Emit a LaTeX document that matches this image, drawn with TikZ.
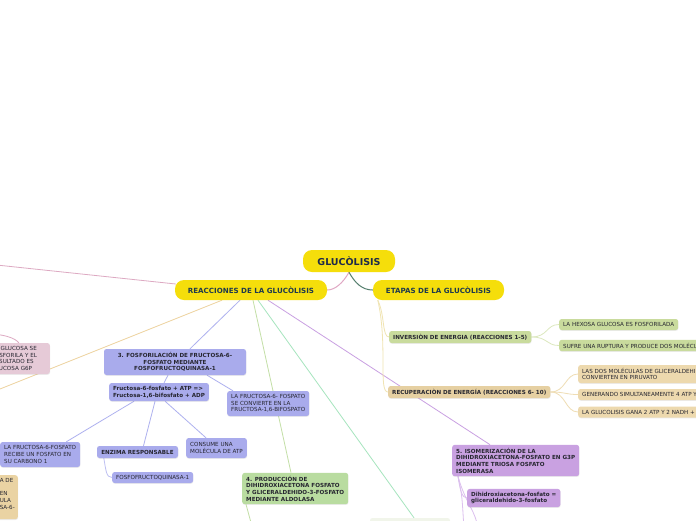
\documentclass[tikz,border=0pt]{standalone}
\usepackage{fontspec}
\setmainfont{DejaVu Sans}
\usetikzlibrary{backgrounds,shadows,calc}
\newcommand\fsz{\fontsize{5.6}{6.67}\selectfont}
\definecolor{yel}{HTML}{F5DE0B}
\definecolor{navy}{HTML}{1E2A4A}
\definecolor{tealdk}{HTML}{1F3A4D}
\definecolor{txt}{HTML}{262630}
\definecolor{bluef}{HTML}{A9ABEC}
\definecolor{greenf}{HTML}{B9DCA0}
\definecolor{purplef}{HTML}{C9A1E1}
\definecolor{pinkf}{HTML}{E6CAD7}
\definecolor{orangef}{HTML}{EAD3A3}
\definecolor{olivef}{HTML}{C9DB9D}
\definecolor{tanf}{HTML}{E6D0A2}
\definecolor{tanlf}{HTML}{EDD9AE}
\definecolor{offf}{HTML}{F1F5EA}
\definecolor{cpink}{HTML}{E0A8C4}
\definecolor{cpinkl}{HTML}{DDA9C2}
\definecolor{corange}{HTML}{EDD19C}
\definecolor{cblue}{HTML}{AEB1EF}
\definecolor{cbluel}{HTML}{BEC0F2}
\definecolor{cgreen}{HTML}{C3DFA6}
\definecolor{cmint}{HTML}{A6E5BE}
\definecolor{cpurple}{HTML}{C9A0E2}
\definecolor{cpurplel}{HTML}{DCC0EE}
\definecolor{cdark}{HTML}{557F6E}
\definecolor{cetapa}{HTML}{F0E4B2}
\definecolor{cinv}{HTML}{DCE8BE}
\definecolor{crec}{HTML}{EFDDB4}
\begin{document}
\begin{tikzpicture}[x=1pt,y=-1pt,
  box/.style={rounded corners=2.5pt, inner xsep=4pt, inner ysep=3pt, font=\fsz, text=txt, align=left,
    drop shadow={shadow xshift=0.3pt, shadow yshift=-0.8pt, opacity=0.15}},
  boldbox/.style={box, font=\fsz\bfseries},
  titlebox/.style={fill=yel, rounded corners=9pt, text=navy, font=\fontsize{9.5}{11}\selectfont\bfseries,
    minimum height=22pt, minimum width=92pt, inner sep=0pt},
  subbox/.style={fill=yel, rounded corners=9pt, text=tealdk, font=\fontsize{7.1}{8}\selectfont\bfseries,
    minimum height=20pt, inner sep=0pt},
  conn/.style={line width=0.8pt}
]
\useasboundingbox (0,0) rectangle (696,520);
\begin{scope}[on background layer]
  \fill[white] (0,0) rectangle (696,520);
\end{scope}

% main nodes
\node[titlebox] (g) at (349,261) {GLUCÒLISIS};
\node[subbox, minimum width=152pt] (r) at (251,290) {REACCIONES DE LA GLUCÒLISIS};
\node[subbox, minimum width=131pt] (e) at (438.5,290) {ETAPAS DE LA GLUCÒLISIS};

% left clipped nodes
\node[box, fill=pinkf, anchor=east, text width=54pt, minimum height=31pt] (p1) at (50,358.5)
  {\mbox{LA GLUCOSA SE}\\\mbox{FOSFORILA Y EL}\\\mbox{RESULTADO ES}\\\mbox{GLUCOSA G6P}};
\node[box, fill=orangef, anchor=north east, text width=14pt, minimum height=44pt] (o) at (18,475)
  {\mbox{A DE}\\\mbox{}\\\mbox{EN}\\\mbox{ULA}\\\mbox{SA-6-}\\\mbox{}};

% blue branch
\node[boldbox, fill=bluef, align=center, minimum width=142pt, minimum height=26pt] (b3) at (175,362)
  {3. FOSFORILACIÓN DE FRUCTOSA-6-\\FOSFATO MEDIANTE\\FOSFOFRUCTOQUINASA-1};
\node[boldbox, fill=bluef, anchor=west, minimum height=18pt] (bf) at (109,392)
  {Fructosa-6-fosfato + ATP =>\\Fructosa-1,6-bifosfato + ADP};
\node[box, fill=bluef, anchor=west, minimum height=25pt] (bc) at (227,403.5)
  {LA FRUCTOSA-6- FOSPATO\\SE CONVIERTE EN LA\\FRUCTOSA-1,6-BIFOSPATO};
\node[box, fill=bluef, anchor=west, minimum height=25pt] (bl) at (0,454.5)
  {LA FRUCTOSA-6-FOSFATO\\RECIBE UN FOSFATO EN\\SU CARBONO 1};
\node[boldbox, fill=bluef, minimum width=81pt, minimum height=12pt] (be) at (137.5,452)
  {ENZIMA RESPONSABLE};
\node[box, fill=bluef, anchor=west, minimum height=20pt] (bm) at (186,448)
  {CONSUME UNA\\MOLÉCULA DE ATP};
\node[box, fill=bluef, anchor=west, minimum height=11pt] (bq) at (112,477.5)
  {FOSFOFRUCTOQUINASA-1};

% green
\node[boldbox, fill=greenf, anchor=west, minimum height=31pt] (g4) at (242,488.5)
  {4. PRODUCCIÓN DE\\DIHIDROXIACETONA FOSFATO\\Y GLICERALDEHIDO-3-FOSFATO\\MEDIANTE ALDOLASA};
\node[fill=offf, rounded corners=2.5pt, minimum width=80pt, minimum height=24pt, inner sep=0pt] (off) at (410,530) {};

% purple
\node[boldbox, fill=purplef, anchor=west, minimum height=31pt] (p5) at (452,460.5)
  {5. ISOMERIZACIÓN DE LA\\DIHIDROXIACETONA-FOSFATO EN G3P\\MEDIANTE TRIOSA FOSFATO\\ISOMERASA};
\node[boldbox, fill=purplef, anchor=west, minimum height=18pt] (p5c) at (467,498)
  {Dihidroxiacetona-fosfato =\\gliceraldehido-3-fosfato};

% etapas
\node[boldbox, fill=olivef, anchor=west, minimum height=12pt] (inv) at (389,337)
  {INVERSIÒN DE ENERGIA (REACCIONES 1-5)};
\node[box, fill=olivef, anchor=west, minimum height=11pt] (i1) at (559,324.5)
  {LA HEXOSA GLUCOSA ES FOSFORILADA};
\node[box, fill=olivef, anchor=west, minimum height=11pt] (i2) at (559,345.5)
  {SUFRE UNA RUPTURA Y PRODUCE DOS MOLÉCULAS DE GLICERALDEHIDO-3-FOSFATO};
\node[boldbox, fill=tanf, anchor=west, minimum height=12pt] (rec) at (388,392)
  {RECUPERACIÒN DE ENERGÍA (REACCIONES 6- 10)};
\node[box, fill=tanlf, anchor=west, minimum height=18pt] (r1) at (578,374)
  {LAS DOS MOLÉCULAS DE GLICERALDEHIDO-3-FOSFATO SE\\CONVIERTEN EN PIRUVATO};
\node[box, fill=tanlf, anchor=west, minimum height=11pt] (r2) at (578,394.5)
  {GENERANDO SIMULTANEAMENTE 4 ATP Y 2 NADH};
\node[box, fill=tanlf, anchor=west, minimum height=11pt] (r3) at (578,412)
  {LA GLUCOLISIS GANA 2 ATP Y 2 NADH + 2 H+};

\coordinate (pk) at (-60,259);
\coordinate (oc) at (-100,429);
\coordinate (pl) at (-20,333);
\coordinate (gd) at (253,530);
\coordinate (pd1) at (464,530);
\coordinate (pd2) at (478,530);

\begin{scope}[on background layer]
  \draw[conn, cpink, line width=1pt] (g.south) .. controls (343,283) and (335,290) .. (r.east);
  \draw[conn, cdark, line width=1pt] (g.south) .. controls (355,283) and (362,290) .. (e.west);
  \draw[conn, cpinkl] ($(r.west)+(1,-6)$) -- (pk);
  \draw[conn, cpinkl] (pl) .. controls (5,334) and (15,338) .. (p1.north);
  \draw[conn, corange] ($(r.south)+(-29,0)$) -- (oc);
  \draw[conn, cblue] ($(r.south)+(-11,0)$) -- ($(b3.north)+(15,0)$);
  \draw[conn, cgreen] ($(r.south)+(2,0)$) -- ($(g4.north west)+(49,0)$);
  \draw[conn, cmint] ($(r.south)+(7,0)$) -- ($(off.north)+(4,0)$);
  \draw[conn, cpurple] ($(r.south)+(17,0)$) -- ($(p5.north west)+(38,0)$);
  \draw[conn, cblue] ($(b3.south)+(-7,0)$) -- ($(bf.north)+(5,0)$);
  \draw[conn, cblue] ($(b3.south)+(32,0)$) -- ($(bc.north west)+(6,0)$);
  \draw[conn, cblue] ($(bf.south)+(-25,0)$) -- ($(bl.north east)+(-14,0)$);
  \draw[conn, cblue] ($(bf.south)+(-4,0)$) -- ($(be.north)+(6,0)$);
  \draw[conn, cblue] ($(bf.south)+(6,0)$) -- ($(bm.north west)+(20,0)$);
  \draw[conn, cbluel] ($(be.south west)+(7,0)$) .. controls (106,470) and (106,477.5) .. (bq.west);
  \draw[conn, cgreen] ($(g4.south west)+(4,0)$) -- (gd);
  \draw[conn, cpurplel] ($(p5.south west)+(6,0)$) .. controls (460,490) and (462,498) .. (p5c.west);
  \draw[conn, cpurplel] ($(p5.south west)+(6,0)$) .. controls (462,495) .. (pd1);
  \draw[conn, cpurplel] ($(p5.south west)+(6,0)$) .. controls (466,505) and (476,510) .. (pd2);
  \draw[conn, cetapa] ($(e.south west)+(5,0)$) .. controls (385,315) and (382,337) .. (inv.west);
  \draw[conn, cetapa] ($(e.south west)+(5,0)$) .. controls (388,345) and (378,392) .. (rec.west);
  \draw[conn, cinv] (inv.east) .. controls (548,337) and (546,324.5) .. (i1.west);
  \draw[conn, cinv] (inv.east) .. controls (548,337) and (546,345.5) .. (i2.west);
  \draw[conn, crec] (rec.east) .. controls (566,392) and (565,374) .. (r1.west);
  \draw[conn, crec] (rec.east) .. controls (566,392) and (565,394.5) .. (r2.west);
  \draw[conn, crec] (rec.east) .. controls (566,392) and (565,412) .. (r3.west);
\end{scope}
\end{tikzpicture}
\end{document}
